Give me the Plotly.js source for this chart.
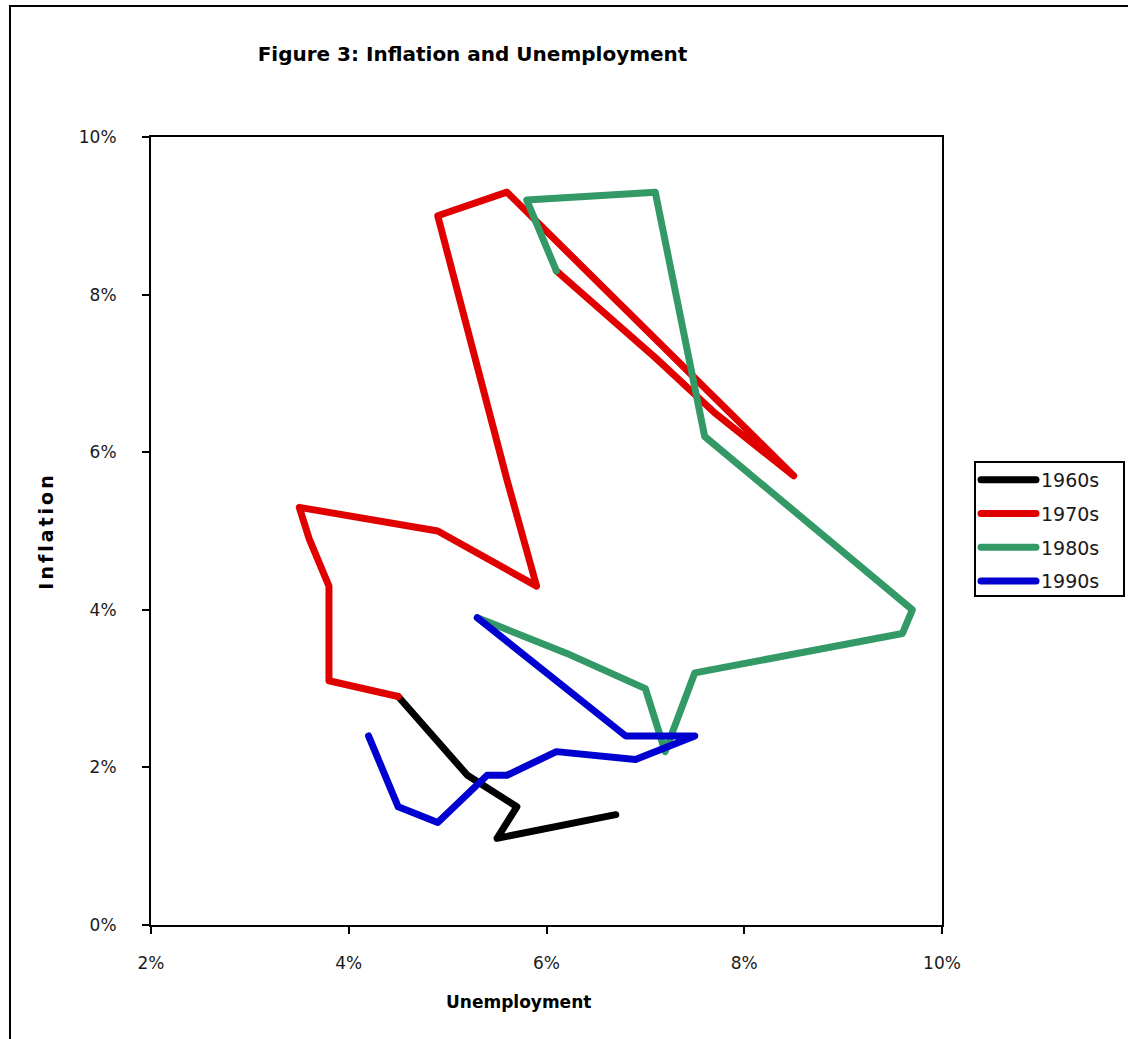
<!DOCTYPE html>
<html>
<head>
<meta charset="utf-8">
<script src="https://cdn.plot.ly/plotly-3.0.1.min.js"></script>
<style>
  body { margin: 0; padding: 0; background: #fff; }
  #wrap { position: relative; width: 1128px; height: 1039px; overflow: hidden; }
  #frame { position: absolute; left: 9px; top: 5px; width: 1200px; height: 1100px; border: 2px solid #000; box-sizing: border-box; pointer-events: none; }
  #chart { position: absolute; left: 0; top: 0; width: 1128px; height: 1039px; }
  #chart .scatterlayer path.js-line, #chart .legend path.js-line { stroke-linecap: round; stroke-linejoin: round; }
</style>
</head>
<body>
<div id="wrap">
  <div id="chart"></div>
  <div id="frame"></div>
</div>
<script>
// Unemployment (x) and inflation (y), as fractions
const u1960s = [0.055, 0.067, 0.055, 0.057, 0.052, 0.045];
const i1960s = [0.011, 0.014, 0.011, 0.015, 0.019, 0.029];

const u1970s = [0.045, 0.038, 0.038, 0.036, 0.035, 0.049, 0.059, 0.056, 0.049, 0.056, 0.085, 0.077, 0.071, 0.061];
const i1970s = [0.029, 0.031, 0.043, 0.049, 0.053, 0.050, 0.043, 0.0565, 0.090, 0.093, 0.057, 0.065, 0.072, 0.083];

const u1980s = [0.061, 0.058, 0.071, 0.076, 0.097, 0.096, 0.075, 0.072, 0.070, 0.062, 0.055, 0.053];
const i1980s = [0.083, 0.092, 0.093, 0.062, 0.040, 0.037, 0.032, 0.022, 0.030, 0.0345, 0.038, 0.039];

const u1990s = [0.053, 0.056, 0.068, 0.075, 0.069, 0.061, 0.056, 0.054, 0.049, 0.045, 0.042];
const i1990s = [0.039, 0.036, 0.024, 0.024, 0.021, 0.022, 0.019, 0.019, 0.013, 0.015, 0.024];

const seriesNames = ['1960s', '1970s', '1980s', '1990s'];
const seriesColors = ['#000000', '#e00000', '#339966', '#0000d0'];
const xs = [u1960s, u1970s, u1980s, u1990s];
const ys = [i1960s, i1970s, i1980s, i1990s];

const traces = seriesNames.map((n, k) => ({
  type: 'scatter',
  mode: 'lines',
  name: n,
  legendgroup: n,
  x: xs[k],
  y: ys[k],
  line: { color: seriesColors[k], width: 7 },
  hoverinfo: 'skip'
}));

const F = 'DejaVu Sans, Verdana, sans-serif';
const PW = 791, PH = 788, PL = 151, PB = 925;
const layout = {
  width: 1128,
  height: 1039,
  paper_bgcolor: 'rgba(0,0,0,0)',
  plot_bgcolor: '#ffffff',
  margin: { l: 151, r: 186, t: 137, b: 114 },
  title: {
    text: '<b>Figure 3: Inflation and Unemployment</b>',
    font: { family: F, size: 20, color: '#000' },
    x: 472.5 / 1128, xanchor: 'center', xref: 'container',
    y: 1 - 54 / 1039, yanchor: 'middle', yref: 'container'
  },
  xaxis: {
    range: [0.02, 0.10],
    dtick: 0.02,
    tick0: 0.02,
    tickformat: '.0%',
    showgrid: false,
    zeroline: false,
    showline: true,
    mirror: true,
    linecolor: '#000',
    linewidth: 2,
    ticks: 'outside',
    ticklen: 7,
    tickwidth: 2,
    tickcolor: '#000',
    ticklabelstandoff: 15,
    tickfont: { family: F, size: 17, color: '#1a1a1a' }
  },
  yaxis: {
    range: [0, 0.10],
    dtick: 0.02,
    tickformat: '.0%',
    showgrid: false,
    zeroline: false,
    showline: true,
    mirror: true,
    linecolor: '#000',
    linewidth: 2,
    ticks: 'outside',
    ticklen: 7,
    tickwidth: 2,
    tickcolor: '#000',
    ticklabelstandoff: 22,
    tickfont: { family: F, size: 17, color: '#1a1a1a' },
    title: { text: '<b>Inflation</b>', font: { family: F, size: 19, color: '#000' }, standoff: 20 }
  },
  annotations: [{
    text: '<b>Unemployment</b>',
    xref: 'paper', yref: 'paper',
    x: (518.5 - PL) / PW, y: (PB - 1002) / PH,
    xanchor: 'center', yanchor: 'middle',
    showarrow: false,
    font: { family: F, size: 17, color: '#000' }
  }],
  shapes: [{
    type: 'rect', xref: 'paper', yref: 'paper',
    x0: (975 - PL) / PW, x1: (1124 - PL) / PW,
    y0: (PB - 596) / PH, y1: (PB - 462) / PH,
    line: { color: '#000', width: 2 },
    fillcolor: 'rgba(0,0,0,0)'
  }],
  legend: {
    x: (976 - PL) / PW,
    xanchor: 'left',
    y: (PB - 461) / PH,
    yanchor: 'top',
    borderwidth: 0,
    bgcolor: 'rgba(0,0,0,0)',
    itemwidth: 55,
    tracegroupgap: 6,
    font: { family: F, size: 19, color: '#1a1a1a' }
  },
  showlegend: true
};

Plotly.newPlot('chart', traces, layout, { displayModeBar: false, staticPlot: true }).then(() => {
  const yt = document.querySelector('.ytitle');
  if (yt) yt.style.letterSpacing = '3px';
});
</script>
</body>
</html>
